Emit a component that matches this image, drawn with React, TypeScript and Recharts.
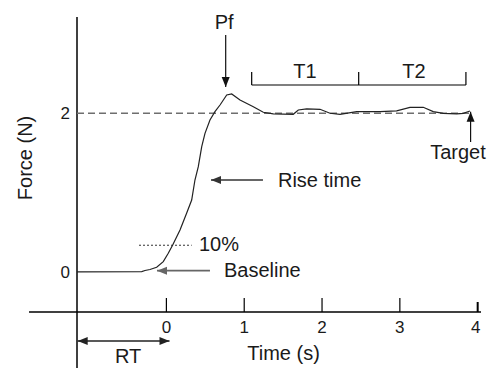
import React from 'react';
import {
  LineChart,
  Line,
  XAxis,
  YAxis,
  ReferenceLine,
  ReferenceDot,
} from 'recharts';

// page reset so the chart sits at the window's corner
if (typeof document !== 'undefined') {
  document.body.style.margin = '0';
  document.body.style.overflow = 'hidden';
}

// force trace: time (s) vs force (N)
const timeS = [
  -1.149, -0.317, -0.275, -0.211, -0.125, -0.04, 0.024, 0.081, 0.175, 0.261, 0.325, 0.367, 0.41,
  0.454, 0.496, 0.56, 0.624, 0.689, 0.775, 0.839, 0.946, 1.117, 1.245, 1.374, 1.63, 1.695, 1.803,
  1.974, 2.102, 2.231, 2.445, 2.744, 2.959, 3.13, 3.301, 3.429, 3.558, 3.73, 3.815, 3.901,
];
const forceN = [
  0, 0.003, 0.018, 0.03, 0.058, 0.129, 0.235, 0.339, 0.528, 0.743, 0.907, 1.159, 1.327, 1.579,
  1.748, 1.916, 2.021, 2.105, 2.231, 2.244, 2.168, 2.084, 2.013, 1.992, 1.988, 2.042, 2.055, 2.051,
  2.001, 1.988, 2.021, 2.021, 2.03, 2.076, 2.076, 2.021, 2.0, 1.992, 2.0, 2.03,
];

const xTicks = [0, 1, 2, 3, 4];
const yTicks = [0, 2];
const targetForce = 2;

const X_DOMAIN: [number, number] = [-1.1487, 4.0427];
const Y_DOMAIN: [number, number] = [-0.506, 3.215];

const FONT = '"Liberation Sans", Arial, Helvetica, sans-serif';
const INK = '#1a1a1a';
const LABEL_SIZE = 20;
const TICK_SIZE = 17;

const chartData = timeS.map((t, i) => ({ t, force: forceN[i] }));

function arrowHead(x: number, y: number, fx: number, fy: number, color: string) {
  // tip at (x, y), pointing away from (fx, fy)
  const dx = x - fx;
  const dy = y - fy;
  const len = Math.sqrt(dx * dx + dy * dy) || 1;
  const ux = dx / len;
  const uy = dy / len;
  const L = 10;
  const W = 4;
  const bx = x - ux * L;
  const by = y - uy * L;
  const pts = `${x},${y} ${bx - uy * W},${by + ux * W} ${bx + uy * W},${by - ux * W}`;
  return <polygon points={pts} fill={color} stroke="none" />;
}

function arrowShape(color: string, width: number, both = false) {
  return (p: any) => (
    <g>
      <line x1={p.x1} y1={p.y1} x2={p.x2} y2={p.y2} stroke={color} strokeWidth={width} />
      {arrowHead(p.x2, p.y2, p.x1, p.y1, color)}
      {both && arrowHead(p.x1, p.y1, p.x2, p.y2, color)}
    </g>
  );
}

function textShape(label: string, anchor: 'start' | 'middle' | 'end', rotate = false) {
  return (p: any) => (
    <text
      x={p.cx}
      y={p.cy}
      textAnchor={anchor}
      fontSize={LABEL_SIZE}
      fontFamily={FONT}
      fill={INK}
      transform={rotate ? `rotate(-90, ${p.cx}, ${p.cy})` : undefined}
      dominantBaseline={rotate ? 'central' : undefined}
    >
      {label}
    </text>
  );
}

function XTick({ x, y, payload }: any) {
  const last = payload.value === xTicks[xTicks.length - 1];
  return (
    <g>
      <line x1={x} y1={y - (last ? 10 : 14)} x2={x} y2={y} stroke="#000" strokeWidth={last ? 2 : 1.2} />
      <text x={x - (last ? 2 : 0)} y={y + 21} textAnchor="middle" fontSize={TICK_SIZE} fontFamily={FONT} fill={INK}>
        {payload.value}
      </text>
    </g>
  );
}

export default function App() {
  return (
    <div style={{ width: 487, height: 368, overflow: 'hidden', background: '#fff' }}>
      <LineChart
        width={487}
        height={368}
        data={chartData}
        margin={{ top: 17, right: 6, bottom: 0, left: 0 }}
      >
        <XAxis
          dataKey="t"
          type="number"
          domain={X_DOMAIN}
          allowDataOverflow
          ticks={xTicks}
          axisLine={false}
          tickLine={false}
          tickSize={0}
          tickMargin={0}
          height={56}
          tick={<XTick />}
        />
        <YAxis
          type="number"
          domain={Y_DOMAIN}
          allowDataOverflow
          ticks={yTicks}
          width={77}
          axisLine={false}
          tickLine={false}
          tickSize={0}
          tickMargin={7}
          tick={{ fill: INK, fontSize: TICK_SIZE, fontFamily: FONT }}
        />

        {/* axes drawn as crossing lines */}
        <ReferenceLine
          segment={[{ x: X_DOMAIN[0], y: Y_DOMAIN[1] }, { x: X_DOMAIN[0], y: -1.212 }]}
          stroke="#000"
          strokeWidth={1.5}
          ifOverflow="visible"
        />
        <ReferenceLine
          segment={[{ x: -1.765, y: Y_DOMAIN[0] }, { x: X_DOMAIN[1], y: Y_DOMAIN[0] }]}
          stroke="#000"
          strokeWidth={1.5}
          ifOverflow="visible"
        />

        {/* target force */}
        <ReferenceLine
          segment={[{ x: X_DOMAIN[0], y: targetForce }, { x: 3.9, y: targetForce }]}
          stroke="#6e6e6e"
          strokeWidth={1.5}
          strokeDasharray="7 4"
          ifOverflow="visible"
        />

        {/* 10% marker */}
        <ReferenceLine
          segment={[{ x: -0.352, y: 0.336 }, { x: 0.325, y: 0.336 }]}
          stroke="#333"
          strokeWidth={1}
          strokeDasharray="2 2"
          ifOverflow="visible"
        />

        {/* T1 / T2 bracket */}
        <ReferenceLine segment={[{ x: 1.096, y: 2.357 }, { x: 3.849, y: 2.357 }]} stroke="#000" strokeWidth={1.2} ifOverflow="visible" />
        <ReferenceLine segment={[{ x: 1.096, y: 2.357 }, { x: 1.096, y: 2.521 }]} stroke="#000" strokeWidth={1.2} ifOverflow="visible" />
        <ReferenceLine segment={[{ x: 2.471, y: 2.357 }, { x: 2.471, y: 2.521 }]} stroke="#000" strokeWidth={1.2} ifOverflow="visible" />
        <ReferenceLine segment={[{ x: 3.849, y: 2.357 }, { x: 3.849, y: 2.521 }]} stroke="#000" strokeWidth={1.2} ifOverflow="visible" />

        {/* arrows */}
        <ReferenceLine segment={[{ x: 0.762, y: 2.988 }, { x: 0.762, y: 2.332 }]} shape={arrowShape('#111', 1.2)} ifOverflow="visible" />
        <ReferenceLine segment={[{ x: 3.909, y: 1.638 }, { x: 3.909, y: 2.02 }]} shape={arrowShape('#111', 1.2)} ifOverflow="visible" />
        <ReferenceLine segment={[{ x: 1.241, y: 1.159 }, { x: 0.573, y: 1.159 }]} shape={arrowShape('#333', 1.3)} ifOverflow="visible" />
        <ReferenceLine segment={[{ x: 0.56, y: 0.015 }, { x: -0.121, y: 0.015 }]} shape={arrowShape('#666', 1.8)} ifOverflow="visible" />
        <ReferenceLine segment={[{ x: -1.14, y: -0.872 }, { x: 0.04, y: -0.872 }]} shape={arrowShape('#222', 1.3, true)} ifOverflow="visible" />

        <Line
          type="linear"
          dataKey="force"
          stroke="#222"
          strokeWidth={1.2}
          dot={false}
          activeDot={false}
          isAnimationActive={false}
        />

        {/* text labels */}
        <ReferenceDot x={0.743} y={3.064} shape={textShape('Pf', 'middle')} ifOverflow="visible" />
        <ReferenceDot x={1.781} y={2.446} shape={textShape('T1', 'middle')} ifOverflow="visible" />
        <ReferenceDot x={3.181} y={2.446} shape={textShape('T2', 'middle')} ifOverflow="visible" />
        <ReferenceDot x={3.747} y={1.424} shape={textShape('Target', 'middle')} ifOverflow="visible" />
        <ReferenceDot x={1.434} y={1.075} shape={textShape('Rise time', 'start')} ifOverflow="visible" />
        <ReferenceDot x={0.419} y={0.264} shape={textShape('10%', 'start')} ifOverflow="visible" />
        <ReferenceDot x={0.74} y={-0.061} shape={textShape('Baseline', 'start')} ifOverflow="visible" />
        <ReferenceDot x={-0.492} y={-1.149} shape={textShape('RT', 'middle')} ifOverflow="visible" />
        <ReferenceDot x={1.505} y={-1.111} shape={textShape('Time (s)', 'middle')} ifOverflow="visible" />
        <ReferenceDot x={-1.817} y={1.437} shape={textShape('Force (N)', 'middle', true)} ifOverflow="visible" />
      </LineChart>
    </div>
  );
}
